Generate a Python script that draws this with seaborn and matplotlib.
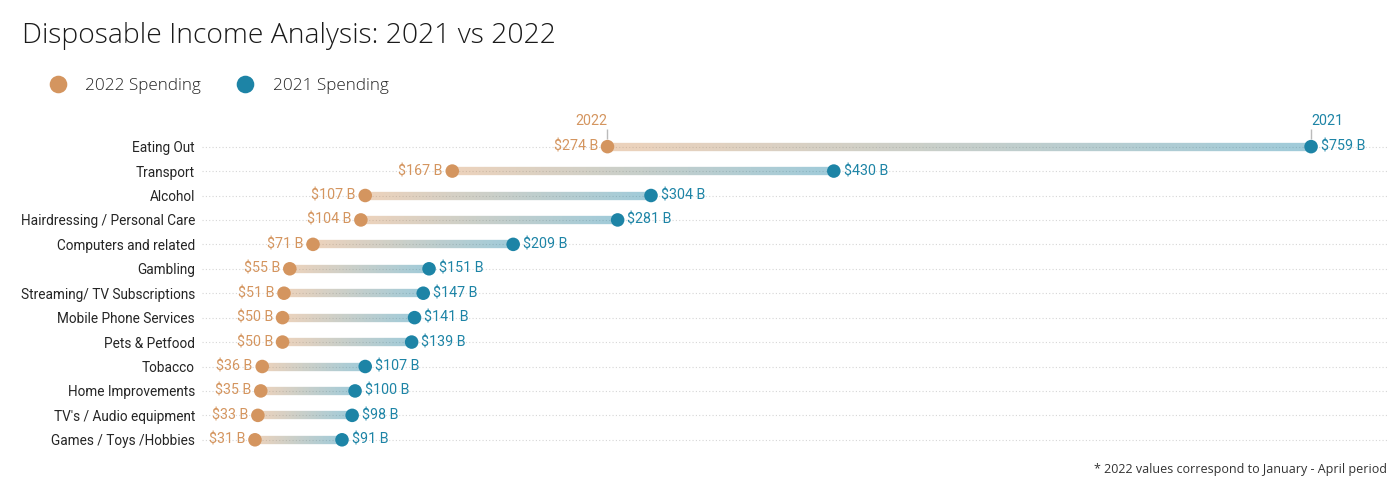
import numpy as np
import pandas as pd
import seaborn as sns
import matplotlib.pyplot as plt
from matplotlib.collections import LineCollection
from matplotlib.colors import to_rgb

# =================================== DATA ===================================

CATEGORIES = ['Eating Out', 'Transport', 'Alcohol', 'Hairdressing / Personal Care',
              'Computers and related', 'Gambling', 'Streaming/ TV Subscriptions',
              'Mobile Phone Services', 'Pets & Petfood', 'Tobacco', 'Home Improvements',
              "TV's / Audio equipment", 'Games / Toys /Hobbies']
SPEND_2022 = [274, 167, 107, 104, 71, 55, 51, 50, 50, 36, 35, 33, 31]
SPEND_2021 = [759, 430, 304, 281, 209, 151, 147, 141, 139, 107, 100, 98, 91]

LABEL_2022 = '2022 Spending'
LABEL_2021 = '2021 Spending'

COLOR_2022 = '#D4955F'
COLOR_2021 = '#1D84A6'

# =================================== PLOT ===================================

rows = np.arange(len(CATEGORIES))
df = pd.DataFrame({
    'row': np.concatenate([rows, rows]),
    'value': SPEND_2022 + SPEND_2021,
    'series': [LABEL_2022] * len(rows) + [LABEL_2021] * len(rows),
})

sns.set_style('white')
plt.rcParams['font.family'] = ['Roboto', 'DejaVu Sans']

fig = plt.figure(figsize=(14, 5), dpi=100)
ax = fig.add_axes([0.1443, 0.096, 0.8471, 0.684])

# gradient connecting lines
c0 = np.array(to_rgb(COLOR_2022))
c1 = np.array(to_rgb(COLOR_2021))
steps = 60
for r, v22, v21 in zip(rows, SPEND_2022, SPEND_2021):
    xs = np.linspace(v22, v21, steps + 1)
    segs = [[(xs[i], r), (xs[i + 1], r)] for i in range(steps)]
    t = np.linspace(0, 1, steps)[:, None]
    cols = np.hstack([c0 * (1 - t) + c1 * t, np.full((steps, 1), 0.42)])
    ax.add_collection(LineCollection(segs, colors=cols, linewidths=6, capstyle='butt', zorder=2))

sns.scatterplot(data=df, x='value', y='row', hue='series',
                hue_order=[LABEL_2022, LABEL_2021], palette=[COLOR_2022, COLOR_2021],
                s=95, linewidth=0, zorder=3, ax=ax)

for r, v22, v21 in zip(rows, SPEND_2022, SPEND_2021):
    ax.annotate(f'${v22} B', (v22, r), xytext=(-7, 0), textcoords='offset points',
                ha='right', va='center', color=COLOR_2022, fontsize=10.3)
    ax.annotate(f'${v21} B', (v21, r), xytext=(7, 0), textcoords='offset points',
                ha='left', va='center', color=COLOR_2021, fontsize=10.3)

# year markers above the top row
ax.vlines([SPEND_2022[0], SPEND_2021[0]], -0.72, -0.3, color='#bbbbbb', linewidth=1, zorder=1)
ax.text(SPEND_2022[0], -0.78, '2022', ha='right', va='bottom', color=COLOR_2022, fontsize=10.3)
ax.text(SPEND_2021[0], -0.78, '2021', ha='left', va='bottom', color=COLOR_2021, fontsize=10.3)

ax.set_yticks(rows)
ax.set_yticklabels(CATEGORIES, fontsize=9.8, color='#252525')
ax.set_ylim(12.5, -1.5)
ax.set_xlim(-5.5, 812)
ax.set_xticks([])
ax.set_xlabel('')
ax.set_ylabel('')
ax.tick_params(axis='y', length=0, pad=5)
ax.grid(axis='y', linestyle=(0, (1, 2)), color='#d6d6d6', linewidth=0.8)
ax.set_axisbelow(True)
sns.despine(ax=ax, left=True, bottom=True)

sns.move_legend(ax, 'center left', bbox_to_anchor=(0.018, 0.828), bbox_transform=fig.transFigure,
                ncol=2, frameon=False, title=None, columnspacing=1.6,
                handletextpad=0.6, markerscale=1.3,
                prop={'family': 'Open Sans', 'weight': 'light', 'size': 12.3})
for t in ax.get_legend().get_texts():
    t.set_color('#252525')

fig.text(0.016, 0.929, 'Disposable Income Analysis: 2021 vs 2022', fontsize=20.3,
         family='Open Sans', weight='light', color='#1a1a1a', va='center', ha='left')
fig.text(0.991, 0.06, '* 2022 values correspond to January - April period', fontsize=9,
         family='Open Sans', color='#333333', ha='right', va='center')

plt.savefig('out.png', dpi=100)
